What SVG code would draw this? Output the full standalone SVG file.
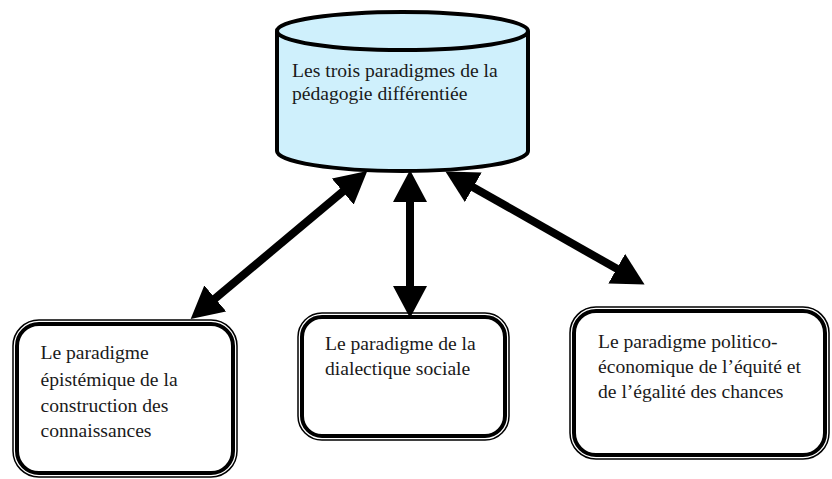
<svg xmlns="http://www.w3.org/2000/svg" width="832" height="479" viewBox="0 0 832 479">
<style>
.t{font-family:"Liberation Serif","Times New Roman","DejaVu Serif",serif;font-size:19.6px;fill:#1a1a1a}
.o{fill:none;stroke:#000;stroke-width:1.5}
.i{fill:#fff;stroke:#000;stroke-width:4}
.c{stroke:#000;stroke-width:8;fill:none}
</style>
<defs>
<marker id="ah" viewBox="0 0 32 34" refX="14" refY="17" markerWidth="32" markerHeight="34" markerUnits="userSpaceOnUse" orient="auto-start-reverse">
<path d="M0,0 L32,17 L0,34 z" fill="#000"/>
</marker>
</defs>
<g id="cylinder">
<path d="M277,31 L277,151 A125.5,20 0 0 0 528,151 L528,31" fill="#cff0fc" stroke="#000" stroke-width="4"/>
<ellipse cx="402.5" cy="31" rx="125.5" ry="19" fill="#cff0fc" stroke="#000" stroke-width="4"/>
<text class="t" x="292" y="77">Les trois paradigmes de la</text>
<text class="t" x="292" y="100">pédagogie différentiée</text>
</g>
<g id="connectors">
<line class="c" x1="353.5" y1="182.6" x2="204.5" y2="307.4" marker-start="url(#ah)" marker-end="url(#ah)"/>
<line class="c" x1="410" y1="188" x2="410" y2="300" marker-start="url(#ah)" marker-end="url(#ah)"/>
<line class="c" x1="461.1" y1="180.4" x2="628.9" y2="275.6" marker-start="url(#ah)" marker-end="url(#ah)"/>
</g>
<g id="box-left">
<rect class="o" x="13" y="320" width="224" height="157" rx="26"/>
<rect class="i" x="17" y="324" width="216" height="149" rx="22"/>
<text class="t" x="40.5" y="358.5">Le paradigme</text>
<text class="t" x="40.5" y="386">épistémique de la</text>
<text class="t" x="40.5" y="411.5">construction des</text>
<text class="t" x="40.5" y="437">connaissances</text>
</g>
<g id="box-middle">
<rect class="o" x="298" y="313" width="211" height="127" rx="24"/>
<rect class="i" x="302" y="317" width="203" height="119" rx="20"/>
<text class="t" x="325" y="350">Le paradigme de la</text>
<text class="t" x="325" y="375">dialectique sociale</text>
</g>
<g id="box-right">
<rect class="o" x="570" y="307" width="259" height="152" rx="26"/>
<rect class="i" x="574" y="311" width="251" height="144" rx="22"/>
<text class="t" x="598" y="348">Le paradigme politico-</text>
<text class="t" x="598" y="373">économique de l’équité et</text>
<text class="t" x="598" y="398">de l’égalité des chances</text>
</g>
</svg>
